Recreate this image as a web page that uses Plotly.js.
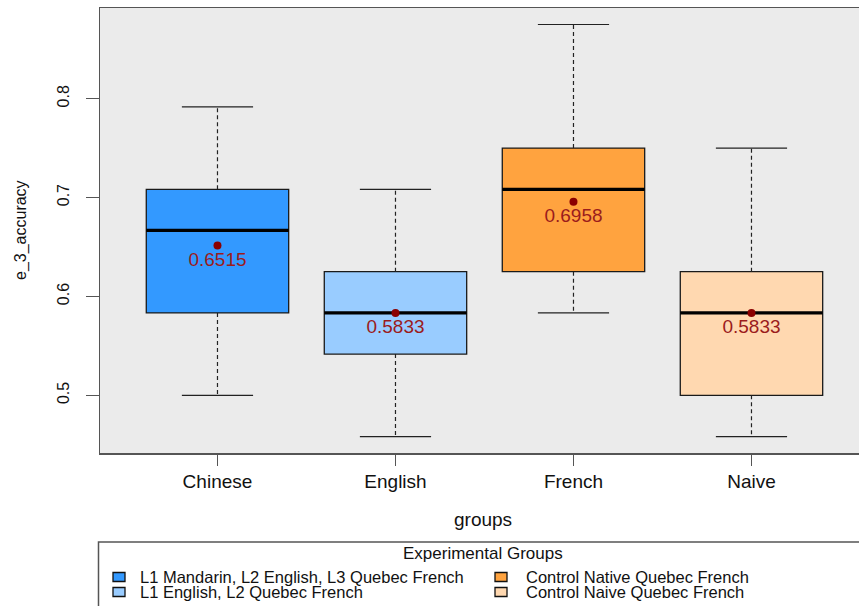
<!DOCTYPE html>
<html>
<head>
<meta charset="utf-8">
<script src="https://cdn.plot.ly/plotly-3.0.1.min.js"></script>
<style>html,body{margin:0;padding:0;background:#fff;}#chart{width:859px;height:606px;}</style>
</head>
<body>
<div id="chart"></div>
<script>
// ---- data ----
var groups = ["Chinese", "English", "French", "Naive"];
var groupLabels = ["L1 Mandarin, L2 English, L3 Quebec French", "L1 English, L2 Quebec French",
                   "Control Native Quebec French", "Control Naive Quebec French"];
var lowerWhisker = [0.5, 0.4583, 0.5833, 0.4583];
var q1Values     = [0.5833, 0.5417, 0.625, 0.5];
var medianValues = [0.6667, 0.5833, 0.7083, 0.5833];
var q3Values     = [0.7083, 0.625, 0.75, 0.625];
var upperWhisker = [0.7917, 0.7083, 0.875, 0.75];
var meanValues   = [0.6515, 0.5833, 0.6958, 0.5833];
var yTicks = [0.5, 0.6, 0.7, 0.8];
var legendTitle = "Experimental Groups";
var xTitle = "groups";
var yTitle = "e_3_accuracy";

// ---- style ----
var colors = ["#3399FF", "#99CCFF", "#FFA33F", "#FFD8B0"];
var FONT = "Liberation Sans, Arial, sans-serif";
var W = 859, H = 606, L = 100, R = 859, T = 8, B = 453;
function px(x) { return (x - L) / (R - L); }
function py(y) { return (B - y) / (B - T); }

var traces = [];
var xs = groups.map(function (g, i) { return i + 1; });

groups.forEach(function (g, i) {
  var x = xs[i];
  // dashed whiskers
  traces.push({
    type: "scatter", mode: "lines", showlegend: false, hoverinfo: "skip",
    x: [x, x, null, x, x],
    y: [q3Values[i], upperWhisker[i], null, q1Values[i], lowerWhisker[i]],
    line: {color: "#222", width: 1.2, dash: "4px,3px"}
  });
  // whisker caps
  traces.push({
    type: "scatter", mode: "lines", showlegend: false, hoverinfo: "skip",
    x: [x - 0.2, x + 0.2, null, x - 0.2, x + 0.2],
    y: [upperWhisker[i], upperWhisker[i], null, lowerWhisker[i], lowerWhisker[i]],
    line: {color: "#222", width: 1.2}
  });
  // box
  traces.push({
    type: "box", name: g, showlegend: false,
    x: [x], q1: [q1Values[i]], median: [medianValues[i]], q3: [q3Values[i]],
    lowerfence: [q1Values[i]], upperfence: [q3Values[i]],
    width: 0.8, whiskerwidth: 0,
    fillcolor: colors[i], line: {color: "#1a1a1a", width: 1.3}
  });
  // thick median
  traces.push({
    type: "scatter", mode: "lines", showlegend: false, hoverinfo: "skip",
    x: [x - 0.4, x + 0.4], y: [medianValues[i], medianValues[i]],
    line: {color: "#000", width: 3.2}
  });
});

// means with labels
traces.push({
  type: "scatter", mode: "markers+text", showlegend: false,
  x: xs, y: meanValues,
  text: meanValues.map(function (v) { return v.toFixed(4); }),
  textposition: "bottom center",
  textfont: {family: FONT, size: 19, color: "#9B1C1C"},
  marker: {color: "#8B0000", size: 8}
});

var shapes = [];
var annotations = [];

// legend frame
shapes.push({type: "rect", xref: "paper", yref: "paper",
  x0: px(98.5), x1: px(900), y0: py(542), y1: py(660),
  line: {color: "#555", width: 1.5}, fillcolor: "rgba(0,0,0,0)", layer: "above"});

annotations.push({xref: "paper", yref: "paper", x: px(483), y: py(553),
  text: legendTitle, showarrow: false, xanchor: "center", yanchor: "middle",
  font: {family: FONT, size: 17, color: "#111"}});

var colSquareX = [113, 495];
var colTextX = [138, 524];
var rowY = [577, 592];
groupLabels.forEach(function (lab, i) {
  var c = Math.floor(i / 2), r = i % 2;
  shapes.push({type: "rect", xref: "paper", yref: "paper",
    x0: px(colSquareX[c]), x1: px(colSquareX[c] + 12),
    y0: py(rowY[r] - 4.5), y1: py(rowY[r] + 4.5),
    fillcolor: colors[i], line: {color: "#111", width: 1.3}});
  annotations.push({xref: "paper", yref: "paper", x: px(colTextX[c]), y: py(rowY[r]),
    text: lab, showarrow: false, xanchor: "left", yanchor: "middle",
    font: {family: FONT, size: 16.5, color: "#111"}});
});

// axis titles
annotations.push({xref: "paper", yref: "paper", x: px(483), y: py(519),
  text: xTitle, showarrow: false, xanchor: "center", yanchor: "middle",
  font: {family: FONT, size: 19, color: "#111"}});
annotations.push({xref: "paper", yref: "paper", x: px(21), y: py(230),
  text: yTitle, showarrow: false, textangle: -90, xanchor: "center", yanchor: "middle",
  font: {family: FONT, size: 16, color: "#111"}});

var layout = {
  width: W, height: H,
  margin: {l: L, r: W - R, t: T, b: H - B, pad: 0},
  paper_bgcolor: "#fff", plot_bgcolor: "#EBEBEB",
  showlegend: false,
  font: {family: FONT, color: "#111"},
  xaxis: {
    range: [0.34, 0.34 + (R - L) / 178], tickmode: "array", tickvals: xs, ticktext: groups,
    showgrid: false, zeroline: false, showline: true, mirror: true,
    linecolor: "#555", linewidth: 1.5, ticks: "outside", ticklen: 11, tickcolor: "#555", tickwidth: 1.3,
    tickfont: {family: FONT, size: 19, color: "#111"}, ticklabelstandoff: 0, automargin: false
  },
  yaxis: {
    range: [0.44167, 0.89167], tickmode: "array", tickvals: yTicks,
    ticktext: yTicks.map(function (v) { return v.toFixed(1); }),
    showgrid: false, zeroline: false, showline: true, mirror: false,
    linecolor: "#555", linewidth: 1.5, ticks: "outside", ticklen: 13, tickcolor: "#555", tickwidth: 1.3,
    tickangle: -90, tickfont: {family: FONT, size: 16, color: "#111"}, ticklabelstandoff: 10, automargin: false
  },
  shapes: shapes,
  annotations: annotations
};

Plotly.newPlot("chart", traces, layout, {displayModeBar: false, staticPlot: true});
</script>
</body>
</html>
